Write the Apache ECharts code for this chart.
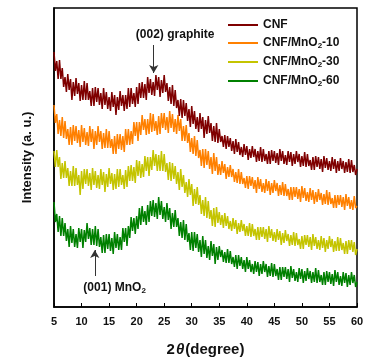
<!DOCTYPE html>
<html>
<head>
<meta charset="utf-8">
<script src="https://cdn.jsdelivr.net/npm/echarts@6/dist/echarts.min.js"></script>
<style>html,body{margin:0;padding:0;background:#fff;}#c{width:374px;height:363px;}</style>
</head>
<body>
<div id="c"></div>
<script>
const seriesNames = ['CNF', 'CNF/MnO2-10', 'CNF/MnO2-30', 'CNF/MnO2-60'];
const seriesColors = ['#7f0000', '#ff8000', '#c4c400', '#008000'];
const xTicks = [5, 10, 15, 20, 25, 30, 35, 40, 45, 50, 55, 60];

const twoTheta = [5,5.25,5.5,5.75,6,6.25,6.5,6.75,7,7.25,7.5,7.75,8,8.25,8.5,8.75,9,9.25,9.5,9.75,10,10.25,10.5,10.75,11,11.25,11.5,11.75,12,12.25,12.5,12.75,13,13.25,13.5,13.75,14,14.25,14.5,14.75,15,15.25,15.5,15.75,16,16.25,16.5,16.75,17,17.25,17.5,17.75,18,18.25,18.5,18.75,19,19.25,19.5,19.75,20,20.25,20.5,20.75,21,21.25,21.5,21.75,22,22.25,22.5,22.75,23,23.25,23.5,23.75,24,24.25,24.5,24.75,25,25.25,25.5,25.75,26,26.25,26.5,26.75,27,27.25,27.5,27.75,28,28.25,28.5,28.75,29,29.25,29.5,29.75,30,30.25,30.5,30.75,31,31.25,31.5,31.75,32,32.25,32.5,32.75,33,33.25,33.5,33.75,34,34.25,34.5,34.75,35,35.25,35.5,35.75,36,36.25,36.5,36.75,37,37.25,37.5,37.75,38,38.25,38.5,38.75,39,39.25,39.5,39.75,40,40.25,40.5,40.75,41,41.25,41.5,41.75,42,42.25,42.5,42.75,43,43.25,43.5,43.75,44,44.25,44.5,44.75,45,45.25,45.5,45.75,46,46.25,46.5,46.75,47,47.25,47.5,47.75,48,48.25,48.5,48.75,49,49.25,49.5,49.75,50,50.25,50.5,50.75,51,51.25,51.5,51.75,52,52.25,52.5,52.75,53,53.25,53.5,53.75,54,54.25,54.5,54.75,55,55.25,55.5,55.75,56,56.25,56.5,56.75,57,57.25,57.5,57.75,58,58.25,58.5,58.75,59,59.25,59.5,59.75,60];

const cnf = [255,236,246,228, 247,228,239,220, 230,215,233,217, 228,207,225,211, 229,213,224,206, 222,207,226,207, 224,207,216,201, 219,201,220,205, 219,202,214,198, 219,202,215,198, 210,196,215,200, 212,192,210,197, 216,201,212,196, 212,198,219,200, 219,203,214,200, 220,203,224,209, 225,209,223,207, 230,214,228,212, 225,211,232,217, 230,210,227,214, 232,215,224,206, 220,203,222,201, 217,199,207,191, 208,189,207,191, 204,186,198,180, 201,183,196,178, 190,175,194,178, 190,169,187,173, 191,174,184,166, 181,165,184,164, 178,165,171,160, 172,158,171,160, 169,156,166,153, 168,155,165,152, 160,150,163,152, 161,147,158,149, 161,150,158,145, 156,146,160,145, 158,146,153,143, 156,143,157,146, 156,144,154,142, 158,146,156,143, 152,142,156,145, 155,141,153,143, 156,145,153,140, 151,141,155,140, 153,141,147,137, 150,137,151,140, 150,138,148,135, 151,139,149,137, 146,136,150,138, 148,134,146,136, 149,138,146,134, 145,135,148,134, 147,135,142,132, 138];

const mno10 = [202,184,193,173, 187,171,190,169, 186,168,178,162, 180,162,182,166, 181,164,177,160, 182,165,179,162, 175,161,181,165, 178,158,176,162, 181,165,176,158, 174,159,178,159, 176,159,168,153, 171,153,173,158, 173,157,171,155, 178,162,178,162, 176,163,185,171, 185,166,185,172, 192,177,188,172, 188,173,194,175, 193,176,186,172, 191,173,194,179, 194,177,190,174, 196,179,193,175, 188,173,192,176, 188,166,181,166, 182,164,174,155, 169,153,171,151, 167,149,157,141, 158,139,158,142, 156,138,150,133, 154,136,150,132, 143,132,146,134, 143,128,140,130, 142,130,138,125, 135,124,138,123, 135,123,129,119, 131,118,131,121, 130,118,127,114, 130,118,128,115, 124,114,128,116, 126,112,124,114, 127,116,124,111, 122,112,125,111, 123,111,118,107, 120,107,120,110, 120,108,118,105, 121,109,119,106, 115,105,119,107, 117,103,115,105, 118,107,114,102, 113,103,117,102, 115,103,109,99, 112,99,112,102, 112,100,110,97, 113,101,110,98, 107,97,111,99, 101];

const mno30 = [156,140,157,140, 150,128,144,129, 146,129,139,121, 136,121,141,121, 139,122,132,112, 136,118,138,123, 138,121,134,117, 139,122,136,119, 132,118,138,122, 135,115,133,120, 139,123,134,117, 133,118,138,120, 138,122,132,118, 137,120,141,126, 142,126,140,124, 147,131,146,129, 143,130,151,136, 150,131,150,137, 157,141,153,136, 152,136,156,136, 153,135,144,127, 145,126,144,128, 141,123,135,117, 138,120,132,114, 125,110,128,112, 123,101,118,103, 120,102,112,93, 107,91,110,89, 106,88,97,81, 99,80,100,84, 95,82,92,79, 94,81,91,78, 86,76,89,78, 87,73,84,75, 87,76,83,71, 81,71,84,70, 83,71,78,67, 80,67,80,70, 80,68,78,65, 81,69,78,66, 75,65,78,67, 76,62,74,64, 77,66,73,61, 72,62,75,61, 74,62,68,58, 71,58,72,62, 72,60,70,57, 73,61,70,58, 67,57,71,59, 69,55,67,58, 71,60,68,55, 66,56,70,56, 69,57,64,53, 66,53,67,57, 67,55,65,52, 58];

const mno60 = [105,85,93,75, 91,71,89,71, 84,66,78,60, 81,64,78,60, 73,59,79,65, 78,59,77,65, 84,68,79,62, 78,62,81,61, 78,60,70,54, 72,54,73,58, 73,56,69,53, 75,59,73,57, 70,57,79,65, 79,61,81,69, 90,76,89,73, 91,78,99,82, 101,85,96,82, 102,85,106,91, 107,90,104,88, 110,92,106,88, 100,85,104,87, 99,78,94,80, 97,80,89,71, 85,69,87,67, 83,65,74,57, 75,56,75,59, 73,55,67,50, 71,53,67,49, 61,47,66,51, 63,43,60,47, 61,50,57,45, 55,44,58,44, 56,43,50,40, 52,38,52,41, 50,38,47,35, 50,38,47,35, 43,33,46,35, 45,31,43,33, 46,35,43,30, 41,31,44,30, 43,31,38,27, 40,27,40,30, 40,28,38,25, 41,29,38,26, 35,25,39,28, 38,24,36,26, 39,28,36,24, 35,25,39,24, 37,25,32,22, 35,22,36,25, 35,23,33,21, 37,25,35,22, 31,21,35,24, 34,20,32,22, 35,24,32,20, 25];

const allValues = [cnf, mno10, mno30, mno60];

const chart = echarts.init(document.getElementById('c'));
const FONT = 'Liberation Sans, Arial, sans-serif';

function legendFmt(name) {
  if (name.indexOf('MnO2') < 0) return '{a|' + name + '}';
  const parts = name.split('MnO2');
  return '{a|' + parts[0] + 'MnO}{s|2}{a|' + parts[1] + '}';
}

const series = seriesNames.map((n, k) => ({
  name: n,
  type: 'line',
  symbol: 'none',
  animation: false,
  data: twoTheta.map((x, i) => [x, allValues[k][i]]),
  lineStyle: { width: 1.5, color: seriesColors[k] },
  itemStyle: { color: seriesColors[k] },
  z: 10 - k
}));

series[0].markLine = {
  silent: true, animation: false,
  symbol: ['none', 'arrow'], symbolSize: [7, 8],
  lineStyle: { color: '#333', width: 1, type: 'solid' },
  label: { show: false },
  data: [
    [{ coord: [23.1, 262] }, { coord: [23.1, 234] }],
    [{ coord: [12.4, 31] }, { coord: [12.4, 57] }]
  ]
};

chart.setOption({
  backgroundColor: '#fff',
  grid: { left: 54, right: 17, top: 8, bottom: 56, show: true, borderColor: '#000', borderWidth: 1.5, backgroundColor: 'transparent' },
  legend: {
    data: seriesNames.map((n, k) => ({ name: n, icon: 'rect', itemStyle: { color: seriesColors[k] } })),
    orient: 'vertical',
    left: 228, top: 19, padding: 0,
    itemWidth: 30, itemHeight: 2, itemGap: 5,
    formatter: legendFmt,
    textStyle: {
      rich: {
        a: { fontFamily: FONT, fontWeight: 'bold', fontSize: 12, color: '#111', lineHeight: 14 },
        s: { fontFamily: FONT, fontWeight: 'bold', fontSize: 8, color: '#111', lineHeight: 14, padding: [6, 0, 0, 0] }
      }
    }
  },
  xAxis: {
    type: 'value', min: 5, max: 60, interval: 5,
    name: '{n|2}{t|θ}{n|(degree)}',
    nameLocation: 'middle', nameGap: 35,
    nameTextStyle: {
      rich: {
        n: { fontFamily: FONT, fontWeight: 'bold', fontSize: 15, color: '#111' },
        t: { fontFamily: FONT, fontWeight: 'bold', fontStyle: 'italic', fontSize: 15, color: '#111', padding: [0, 1, 0, 1] }
      }
    },
    axisLine: { lineStyle: { color: '#000', width: 1.5 } },
    axisTick: { inside: true, length: 4, lineStyle: { color: '#000', width: 1 } },
    axisLabel: { fontFamily: FONT, fontWeight: 'bold', fontSize: 11, color: '#111', margin: 9,
      formatter: v => xTicks.indexOf(v) >= 0 ? String(v) : '' },
    splitLine: { show: false }
  },
  yAxis: {
    type: 'value', min: 0, max: 299,
    name: 'Intensity (a. u.)',
    nameLocation: 'middle', nameGap: 20,
    nameTextStyle: { fontFamily: FONT, fontWeight: 'bold', fontSize: 13, color: '#111' },
    axisLine: { show: true, lineStyle: { color: '#000', width: 1.5 } },
    axisTick: { show: false },
    axisLabel: { show: false },
    splitLine: { show: false }
  },
  series: series
});

const p1 = chart.convertToPixel({ gridIndex: 0 }, [27.0, 272]);
const p2 = chart.convertToPixel({ gridIndex: 0 }, [16.0, 19]);
chart.setOption({
  graphic: [
    { type: 'text', x: p1[0], y: p1[1], z: 100,
      style: { text: '(002) graphite', fontFamily: FONT, fontWeight: 'bold', fontSize: 12, fill: '#111', align: 'center', verticalAlign: 'middle' } },
    { type: 'text', x: p2[0], y: p2[1], z: 100,
      style: { text: '{a|(001) MnO}{s|2}', align: 'center', verticalAlign: 'middle',
        rich: {
          a: { fontFamily: FONT, fontWeight: 'bold', fontSize: 12, fill: '#111', lineHeight: 14 },
          s: { fontFamily: FONT, fontWeight: 'bold', fontSize: 8, fill: '#111', lineHeight: 14, padding: [6, 0, 0, 0] }
        } } }
  ]
});
</script>
</body>
</html>
